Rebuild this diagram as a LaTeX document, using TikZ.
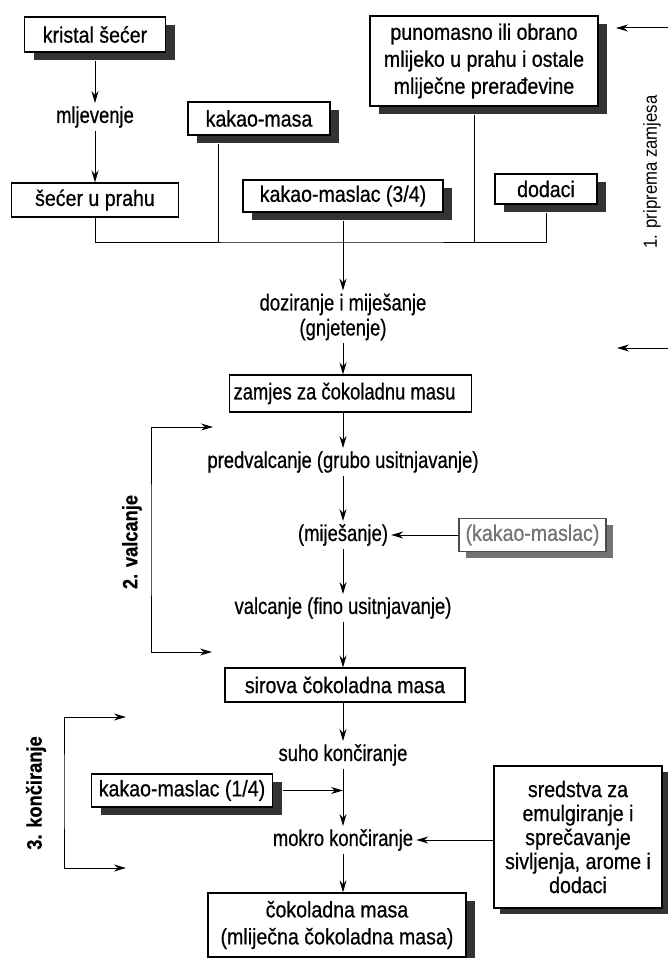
\documentclass[tikz,border=0pt]{standalone}
\usepackage{fontspec}
\setmainfont{Liberation Sans}
\newfontfamily\flowfont{Liberation Sans}[FakeStretch=0.8, FakeBold=0.6]
\newfontfamily\boxfont{Liberation Sans}[FakeStretch=0.87, FakeBold=0.6]
\newfontfamily\sidefont{Liberation Sans}[FakeStretch=0.88]
\usetikzlibrary{positioning,arrows.meta,shadows}
\tikzset{
line/.style={line width=1pt},
flow/.style={line, ->, >={Stealth[length=12pt,width=7pt]}},
cardbase/.style={draw, line width=1.3pt, fill=white, inner sep=0pt, align=center,
  font=\boxfont\fontsize{22.5}{27}\selectfont},
card/.style={cardbase, drop shadow={shadow xshift=9pt, shadow yshift=-8pt, fill=black!80, opacity=1}},
plaincard/.style={cardbase, line width=1.1pt},
stage/.style={font=\flowfont\fontsize{23}{25}\selectfont, inner sep=3pt, align=center},
phaselabel/.style={font=\boxfont\bfseries\fontsize{21}{24}\selectfont, rotate=90},
}
\begin{document}
\begin{tikzpicture}[x=1pt,y=-1pt]
\useasboundingbox (0,0) rectangle (667,958);

% 1. priprema zamjesa
\node[card, minimum width=141pt, minimum height=35pt] (kristal) at (95,34.5) {kristal šećer};
\node[stage] (mljevenje) at (95,117) {mljevenje};
\node[plaincard, minimum width=167pt, minimum height=34pt] (secer) at (95,200) {šećer u prahu};
\node[card, minimum width=142pt, minimum height=33pt] (masa) at (259,118.5) {kakao-masa};
\node[card, minimum width=200pt, minimum height=32pt] (maslac) at (343,196) {kakao-maslac (3/4)};
\node[card, minimum width=102pt, minimum height=30pt] (dodaci) at (546,189) {dodaci};
\node[card, minimum width=228pt, minimum height=90pt] (mlijeko) at (484,61)
  {punomasno ili obrano\\mlijeko u prahu i ostale\\mliječne prerađevine};
\draw[flow] ([yshift=-8pt]kristal.south) -- (mljevenje);
\draw[flow] (mljevenje) -- (secer);

\coordinate (merge) at (343,242);
\draw[line] (secer.south) |- (merge) -| ([yshift=-8pt]dodaci.south);
\draw[line] ([xshift=-41pt,yshift=-8pt]masa.south) -- ([xshift=-41pt]masa.south |- merge);
\draw[line] ([xshift=-10pt,yshift=-8pt]mlijeko.south) -- ([xshift=-10pt]mlijeko.south |- merge);

\node[stage] (doziranje) at (343,317) {doziranje i miješanje\\(gnjetenje)};
\draw[flow] ([yshift=-8pt]maslac.south) -- (doziranje);
\node[plaincard, font=\flowfont\fontsize{23}{25}\selectfont, minimum width=239pt,
  minimum height=37pt, inner xsep=4pt, anchor=west] (zamjes) at (229,393.5) {zamjes za čokoladnu masu\hspace{12pt}};
\draw[flow] (doziranje) -- (doziranje |- zamjes.north);

\coordinate (p1top) at (616,28);
\coordinate (p1bot) at (617,348);
\draw[flow, <->] (p1top) -| (669,190) |- (p1bot);
\node[phaselabel, font=\sidefont\fontsize{19}{22}\selectfont] (p1) at (652,172) {1. priprema zamjesa};

% 2. valcanje
\node[stage] (predvalcanje) at (343,462) {predvalcanje (grubo usitnjavanje)};
\node[stage] (mijesanje) at (343,535) {(miješanje)};
\node[cardbase, draw=black!70, text=black!55, minimum width=147pt, minimum height=33pt,
  drop shadow={shadow xshift=7pt, shadow yshift=-6pt, fill=black!55, opacity=1}] (maslacG) at (532.5,535) {(kakao-maslac)};
\node[stage] (valcanje) at (343,608) {valcanje (fino usitnjavanje)};
\node[plaincard, minimum width=240pt, minimum height=34pt] (sirova) at (345,685) {sirova čokoladna masa};
\draw[flow] (zamjes.south -| doziranje) -- (predvalcanje);
\draw[flow] (predvalcanje) -- (mijesanje);
\draw[flow] (maslacG) -- (mijesanje);
\draw[flow] (mijesanje) -- (valcanje);
\draw[flow] (valcanje) -- (valcanje |- sirova.north);

\coordinate (p2top) at (213,427);
\coordinate (p2bot) at (212,652);
\draw[flow, <->] (p2top) -| (151,540) |- (p2bot);
\node[phaselabel] (p2) at (132,542) {2. valcanje};

% 3. končiranje
\node[stage] (suho) at (343,755) {suho končiranje};
\node[card, minimum width=181pt, minimum height=33pt] (km14) at (182,790.5) {kakao-maslac (1/4)};
\node[stage] (mokro) at (343,840) {mokro končiranje};
\node[cardbase, minimum width=168pt, minimum height=142pt, font=\boxfont\fontsize{22.5}{24}\selectfont,
  drop shadow={shadow xshift=6pt, shadow yshift=-6pt, fill=black!80, opacity=1}] (sredstva) at (578,837)
  {sredstva za\\emulgiranje i\\sprečavanje\\sivljenja, arome i\\dodaci};
\node[card, minimum width=258pt, minimum height=64pt] (cokolada) at (337,925)
  {čokoladna masa\\(mliječna čokoladna masa)};
\draw[flow] (sirova.south -| suho) -- (suho);
\draw[flow] (suho) -- (mokro);
\draw[flow] ([xshift=10pt]km14.east) -- (km14.east -| suho);
\draw[flow] (sredstva.west |- mokro) -- (mokro);
\draw[flow] (mokro) -- (mokro |- cokolada.north);

\coordinate (p3top) at (126,717);
\coordinate (p3bot) at (126,868);
\draw[flow, <->] (p3top) -| (64,790) |- (p3bot);
\node[phaselabel] (p3) at (36,793) {3. končiranje};
\end{tikzpicture}
\end{document}
